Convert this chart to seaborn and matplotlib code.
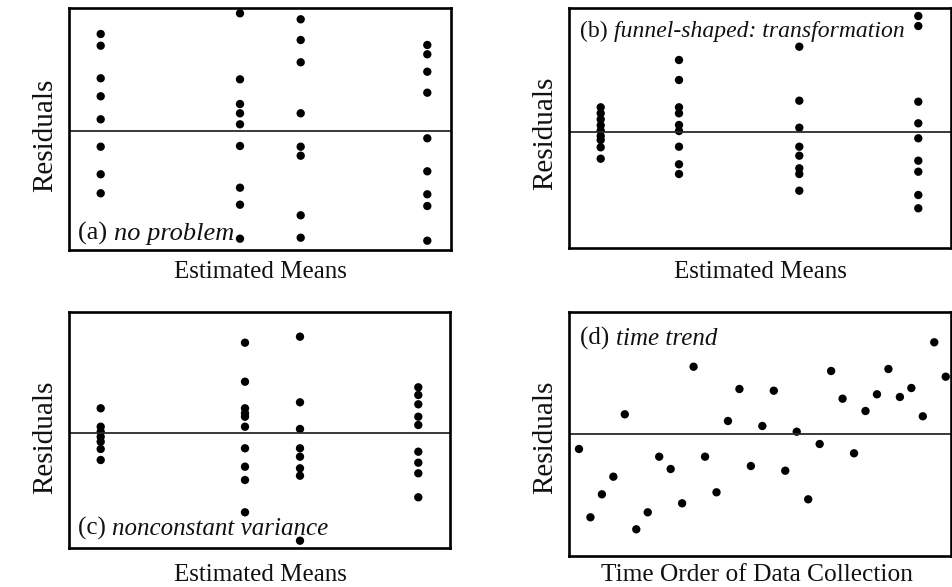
import numpy as np
import pandas as pd
import matplotlib
matplotlib.use("Agg")
import matplotlib.pyplot as plt
import seaborn as sns

# ---------------- data (arbitrary residual units) ----------------
# Panel (a): no problem
a_means = [3.17, 17.1, 23.17, 35.83]
a_res = [
    [9.7, 8.53, 5.27, 3.47, 1.17, -1.57, -4.33, -6.23],
    [11.77, 5.17, 2.7, 1.77, 0.67, -1.5, -5.67, -7.37, -10.77],
    [11.17, 9.1, 6.87, 1.77, -1.57, -2.47, -8.43, -10.67],
    [8.6, 7.67, 5.93, 3.83, -0.73, -4.03, -6.33, -7.5, -10.97],
]
# Panel (b): funnel-shaped
b_means = [3.22, 11.05, 23.08, 34.98]
b_res = [
    [2.44, 1.84, 1.24, 0.64, 0.1, -0.43, -0.83, -1.56, -2.7],
    [7.17, 5.17, 2.44, 1.84, 0.67, 0.07, -1.5, -3.26, -4.23],
    [8.5, 3.1, 0.4, -1.5, -2.4, -3.66, -4.23, -5.9],
    [11.57, 10.57, 3.0, 0.84, -0.66, -2.9, -4.0, -6.33, -7.66],
]
# Panel (c): nonconstant variance
c_means = [3.17, 17.6, 23.1, 34.93]
c_res = [
    [2.5, 0.66, 0.16, -0.34, -0.84, -1.57, -2.67],
    [9.06, 5.16, 2.5, 2.0, 1.66, 0.66, -1.5, -3.34, -4.67, -7.9],
    [9.66, 3.1, 0.43, -1.5, -2.34, -3.5, -4.24, -10.74],
    [4.6, 3.83, 2.9, 1.66, 0.83, -1.84, -2.94, -4.0, -6.4],
]
# Panel (d): time trend
d_time = list(range(1, 34))
d_res = [-1.5, -8.33, -6.03, -4.27, 1.97, -9.53, -7.83, -2.27, -3.5, -6.93,
         6.73, -2.27, -5.83, 1.3, 4.5, -3.2, 0.8, 4.33, -3.67, 0.23,
         -6.53, -1.0, 6.3, 3.53, -1.93, 2.3, 3.97, 6.5, 3.7, 4.6,
         1.77, 9.17, 5.73]

panel_titles = ["(a) ", "(b) ", "(c) ", "(d) "]
panel_notes = ["no problem", "funnel-shaped: transformation",
               "nonconstant variance", "time trend"]
x_labels = ["Estimated Means", "Estimated Means", "Estimated Means",
            "Time Order of Data Collection"]
y_label = "Residuals"


def to_frame(means, res):
    xs, ys = [], []
    for m, r in zip(means, res):
        xs += [m] * len(r)
        ys += r
    return pd.DataFrame({"x": xs, "res": ys})


frames = [to_frame(a_means, a_res), to_frame(b_means, b_res),
          to_frame(c_means, c_res), pd.DataFrame({"x": d_time, "res": d_res})]

# ---------------- style ----------------
sns.set_style("white")
plt.rcParams["font.family"] = ["Liberation Serif", "DejaVu Serif"]
W, H = 952, 587
fig = plt.figure(figsize=(W / 100, H / 100), dpi=100)


def px_axes(l, t, r, b):
    return fig.add_axes([l / W, 1 - b / H, (r - l) / W, (b - t) / H])


boxes = [(69, 8, 451, 250), (568.5, 8.3, 951, 248.3),
         (69, 312.3, 450, 548.3), (569.3, 312.3, 951, 555.7)]
xlims = [(0, 38.2), (0, 38.25), (0, 38.1), (0.156, 33.46)]
ylims = [(-11.9, 12.3), (-11.66, 12.34), (-11.5, 12.1), (-12.17, 12.17)]
note_pos = [(78, 240), (580, 37), (78, 535), (580, 345)]
note_fs = [19, 17, 18, 18]
ylab_pos = [(45, 135), (545, 133), (45, 437), (545, 437)]
xlab_pos = [(260, 272), (760, 272), (260, 575), (757, 575)]
xlab_fs = [18, 18, 18, 18.3]
YFS = 21

for i, df in enumerate(frames):
    ax = px_axes(*boxes[i])
    sns.scatterplot(data=df, x="x", y="res", ax=ax, color="black",
                    s=36, edgecolor="none", linewidth=0, legend=False)
    ax.axhline(0, color="#2a2a2a", lw=1.3, zorder=1)
    ax.set_xlim(*xlims[i])
    ax.set_ylim(*ylims[i])
    ax.set_xticks([])
    ax.set_yticks([])
    ax.set_xlabel("")
    ax.set_ylabel("")
    for sp in ax.spines.values():
        sp.set_visible(True)
        sp.set_color("black")
        sp.set_linewidth(1.9)
    # panel annotation
    nx, ny = note_pos[i]
    t1 = fig.text(nx / W, 1 - ny / H, panel_titles[i], fontsize=note_fs[i],
                  ha="left", va="baseline", color="#111111")
    fig.canvas.draw()
    bb = t1.get_window_extent()
    fig.text(bb.x1 / W, 1 - ny / H, panel_notes[i], fontsize=note_fs[i],
             style="italic", ha="left", va="baseline", color="#111111")
    lx, ly = ylab_pos[i]
    fig.text(lx / W, 1 - ly / H, y_label, fontsize=YFS, rotation=90,
             ha="center", va="center", color="#111111")
    xx, xy = xlab_pos[i]
    fig.text(xx / W, 1 - xy / H, x_labels[i], fontsize=xlab_fs[i],
             ha="center", va="center", color="#111111")

fig.savefig("out.png", dpi=100, facecolor="white")
